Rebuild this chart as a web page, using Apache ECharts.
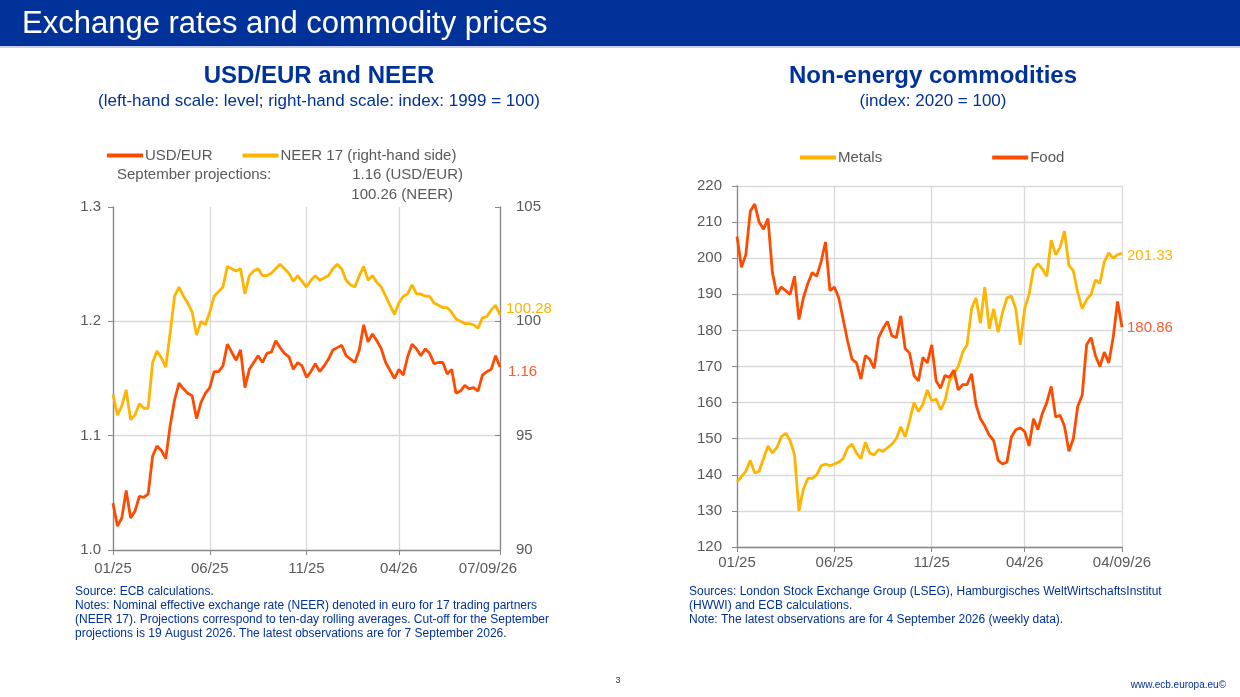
<!DOCTYPE html>
<html>
<head>
<meta charset="utf-8">
<script src="https://cdn.jsdelivr.net/npm/echarts@6/dist/echarts.min.js"></script>
<style>
  html, body { margin: 0; padding: 0; background: #fff; }
  #main { width: 1240px; height: 697px; }
</style>
</head>
<body>
<div id="main"></div>
<script>
// weekly observations (Fridays from 3 Jan 2025), last left point is 7 Sep 2026
var weekCount = 88;
var leftExtraDate = '2026-09-07';

var leftTickDates = ['2025-01-03', '2025-06-06', '2025-11-07', '2026-04-03', '2026-09-07'];
var leftTickLabels = ['01/25', '06/25', '11/25', '04/26', '07/09/26'];
var rightTickDates = ['2025-01-03', '2025-06-06', '2025-11-07', '2026-04-03', '2026-09-04'];
var rightTickLabels = ['01/25', '06/25', '11/25', '04/26', '04/09/26'];

var usdEur = [
  1.041, 1.021, 1.028, 1.052, 1.028, 1.034, 1.047, 1.046, 1.049, 1.082,
  1.091, 1.087, 1.080, 1.109, 1.131, 1.146, 1.141, 1.137, 1.135, 1.115,
  1.129, 1.137, 1.142, 1.156, 1.156, 1.161, 1.180, 1.173, 1.166, 1.175,
  1.142, 1.158, 1.164, 1.170, 1.164, 1.172, 1.173, 1.183, 1.177, 1.172,
  1.169, 1.158, 1.164, 1.161, 1.151, 1.156, 1.163, 1.156, 1.161, 1.167,
  1.175, 1.177, 1.179, 1.170, 1.167, 1.164, 1.175, 1.197, 1.182, 1.189,
  1.183, 1.176, 1.164, 1.157, 1.150, 1.158, 1.153, 1.169, 1.180, 1.176,
  1.170, 1.176, 1.172, 1.163, 1.164, 1.164, 1.154, 1.158, 1.137, 1.139,
  1.144, 1.141, 1.142, 1.139, 1.153, 1.156, 1.158, 1.170, 1.16
];
var neer17 = [
  96.8, 95.9, 96.3, 97.0, 95.7, 95.9, 96.4, 96.2, 96.2, 98.2,
  98.7, 98.4, 98.0, 99.5, 101.1, 101.5, 101.1, 100.8, 100.4, 99.4,
  100.0, 99.85, 100.4, 101.1, 101.3, 101.5, 102.4, 102.3, 102.2, 102.3,
  101.2, 102.0, 102.2, 102.3, 102.0, 102.0, 102.1, 102.3, 102.5, 102.3,
  102.1, 101.75, 102.0, 101.75, 101.5, 101.8, 102.0, 101.8, 101.9, 102.0,
  102.3, 102.5, 102.3, 101.8, 101.6, 101.5, 102.0, 102.4, 101.8, 102.0,
  101.7, 101.5, 101.1, 100.7, 100.3, 100.8, 101.1, 101.2, 101.6, 101.2,
  101.2, 101.1, 101.1, 100.8, 100.7, 100.6, 100.6, 100.4, 100.1, 100.0,
  99.9, 99.9, 99.85, 99.7, 100.15, 100.2, 100.5, 100.7, 100.28
];

var metals = [
  138, 139.5, 141, 144, 140.5, 141, 144.5, 148, 146, 147.5,
  150.5, 151.5, 149.5, 145.5, 130, 136, 139, 139, 140, 142.5,
  143, 142.5, 143, 143.5, 144.5, 147.5, 148.5, 146, 144.5, 149,
  146, 145.5, 147, 146.5, 147.5, 148.5, 150, 153.3, 150.5, 155,
  160, 157.5, 159.5, 163.5, 160.5, 161, 158, 160.5, 166, 168,
  170, 174, 176, 186, 189, 182, 192, 180.5, 186, 179.5,
  185, 189, 189.5, 186, 176, 186, 190, 197, 198.5, 197,
  195, 205, 201, 203, 207.5, 198, 196.5, 190.5, 186, 188.5,
  190, 194, 193, 199, 201.5, 200, 201, 201.33
];
var food = [
  206, 197.5, 201, 213, 215, 210, 208, 211, 196, 190,
  192, 191, 190, 195, 183, 189, 193, 196, 195, 199,
  204.5, 191, 192, 189, 183, 177, 172, 171, 166.5, 173,
  172, 169.5, 178, 180.5, 182.5, 178.5, 178, 184, 175, 173.7,
  167.5, 166, 172.5, 171, 176, 166, 164, 167.5, 167, 169,
  163.5, 165, 165, 168, 159.5, 155.5, 153.5, 151, 149.5, 144,
  143, 143.5, 150.5, 152.5, 153, 152, 148, 155.5, 152.5, 157,
  160, 164.5, 156, 156.5, 153.5, 146.5, 150, 159, 162, 176,
  178, 173, 170, 174, 171, 178, 188, 180.86
];

// build weekly date categories
var weekDates = [];
for (var i = 0; i < weekCount; i++) {
  var d = new Date(Date.UTC(2025, 0, 3) + i * 7 * 86400000);
  weekDates.push(d.toISOString().slice(0, 10));
}
var leftDates = weekDates.concat([leftExtraDate]);
var rightDates = weekDates.slice();

var ORANGE = '#FF4B00';
var YELLOW = '#FFB400';
var BLUE = '#003299';
var GREY = '#595959';
var FONT = '"Liberation Sans", Arial, sans-serif';

var myChart = echarts.init(document.getElementById('main'));

var tickFn = function(dates) {
  return function(idx, val) { return dates.indexOf(val) >= 0; };
};
var labelFn = function(dates, labels, shiftLast) {
  return function(val) {
    var k = dates.indexOf(val);
    if (k < 0) return '';
    if (shiftLast && k == dates.length - 1) return '{last|' + labels[k] + '}';
    return labels[k];
  };
};

var xAxisCommon = function(gridIndex, dates, tDates, tLabels, margin, shiftLast) {
  return {
    type: 'category',
    gridIndex: gridIndex,
    data: dates,
    boundaryGap: false,
    axisLine: { lineStyle: { color: '#888', width: 1.3 } },
    axisTick: { interval: tickFn(tDates), length: 5, lineStyle: { color: '#888' } },
    axisLabel: {
      interval: tickFn(tDates),
      formatter: labelFn(tDates, tLabels, shiftLast),
      color: GREY, fontSize: 15, fontFamily: FONT, margin: margin,
      showMaxLabel: true,
      rich: { last: { color: GREY, fontSize: 15, fontFamily: FONT, padding: [0, 24, 0, 0] } }
    },
    splitLine: { show: true, interval: tickFn(tDates), lineStyle: { color: '#d9d9d9', width: 1.3 } }
  };
};

var option = {
  animation: false,
  textStyle: { fontFamily: FONT },
  graphic: [
    { type: 'rect', shape: { x: 0, y: 0, width: 1240, height: 46 }, style: { fill: BLUE } },
    { type: 'rect', shape: { x: 0, y: 46, width: 1240, height: 2 }, style: { fill: '#c8d0e8' } },
    { type: 'text', x: 22, y: 24, style: { text: 'Exchange rates and commodity prices', fill: '#fff', font: '31px ' + FONT, textVerticalAlign: 'middle' } },

    { type: 'text', x: 319, y: 76, style: { text: 'USD/EUR and NEER', fill: BLUE, font: 'bold 24px ' + FONT, textAlign: 'center', textVerticalAlign: 'middle' } },
    { type: 'text', x: 319, y: 101, style: { text: '(left-hand scale: level; right-hand scale: index: 1999 = 100)', fill: BLUE, font: '17px ' + FONT, textAlign: 'center', textVerticalAlign: 'middle' } },
    { type: 'text', x: 933, y: 76, style: { text: 'Non-energy commodities', fill: BLUE, font: 'bold 24px ' + FONT, textAlign: 'center', textVerticalAlign: 'middle' } },
    { type: 'text', x: 933, y: 101, style: { text: '(index: 2020 = 100)', fill: BLUE, font: '17px ' + FONT, textAlign: 'center', textVerticalAlign: 'middle' } },

    { type: 'text', x: 117, y: 175, style: { text: 'September projections:', fill: GREY, font: '15px ' + FONT, textVerticalAlign: 'middle' } },
    { type: 'text', x: 463, y: 175, style: { text: '1.16 (USD/EUR)', fill: GREY, font: '15px ' + FONT, textAlign: 'right', textVerticalAlign: 'middle' } },
    { type: 'text', x: 453, y: 195, style: { text: '100.26 (NEER)', fill: GREY, font: '15px ' + FONT, textAlign: 'right', textVerticalAlign: 'middle' } },

    { type: 'text', x: 75, y: 585, style: {
      text: 'Source: ECB calculations.\nNotes: Nominal effective exchange rate (NEER) denoted in euro for 17 trading partners\n(NEER 17). Projections correspond to ten-day rolling averages. Cut-off for the September\nprojections is 19 August 2026. The latest observations are for 7 September 2026.',
      fill: BLUE, font: '12px ' + FONT, lineHeight: 14 } },
    { type: 'text', x: 689, y: 585, style: {
      text: 'Sources: London Stock Exchange Group (LSEG), Hamburgisches WeltWirtschaftsInstitut\n(HWWI) and ECB calculations.\nNote: The latest observations are for 4 September 2026 (weekly data).',
      fill: BLUE, font: '12px ' + FONT, lineHeight: 14 } },
    { type: 'text', x: 618, y: 681, style: { text: '3', fill: '#333', font: '9px ' + FONT, textAlign: 'center', textVerticalAlign: 'middle' } },
    { type: 'text', x: 1226, y: 685, style: { text: 'www.ecb.europa.eu©', fill: BLUE, font: '10px ' + FONT, textAlign: 'right', textVerticalAlign: 'middle' } }
  ],
  legend: [
    {
      left: 107, top: 148, padding: 0,
      itemWidth: 36, itemHeight: 4, itemGap: 30, icon: 'rect',
      textStyle: { color: GREY, fontSize: 15, fontFamily: FONT, padding: [0, 0, 0, -3] },
      data: ['USD/EUR', 'NEER 17 (right-hand side)']
    },
    {
      left: 800, top: 150, padding: 0,
      itemWidth: 36, itemHeight: 4, itemGap: 110, icon: 'rect',
      textStyle: { color: GREY, fontSize: 15, fontFamily: FONT, padding: [0, 0, 0, -3] },
      data: ['Metals', 'Food']
    }
  ],
  grid: [
    { left: 113, top: 207, width: 387, height: 343 },
    { left: 737, top: 186, width: 385, height: 361 }
  ],
  xAxis: [
    xAxisCommon(0, leftDates, leftTickDates, leftTickLabels, 11, true),
    xAxisCommon(1, rightDates, rightTickDates, rightTickLabels, 8, false)
  ],
  yAxis: [
    {
      type: 'value', gridIndex: 0, min: 1.0, max: 1.3, interval: 0.1,
      axisLine: { show: true, lineStyle: { color: '#888', width: 1.3 } },
      axisTick: { show: true, length: 5, lineStyle: { color: '#888' } },
      axisLabel: { color: GREY, fontSize: 15, fontFamily: FONT, margin: 12, formatter: function(v) { return v.toFixed(1); } },
      splitLine: { show: true, lineStyle: { color: ['transparent', '#d9d9d9', '#d9d9d9', 'transparent'], width: 1.3 } }
    },
    {
      type: 'value', gridIndex: 0, position: 'right', min: 90, max: 105, interval: 5,
      axisLine: { show: true, lineStyle: { color: '#888', width: 1.3 } },
      axisTick: { show: true, inside: true, length: 5, lineStyle: { color: '#888' } },
      axisLabel: { color: GREY, fontSize: 15, fontFamily: FONT, margin: 16 },
      splitLine: { show: false }
    },
    {
      type: 'value', gridIndex: 1, min: 120, max: 220, interval: 10,
      axisLine: { show: true, lineStyle: { color: '#888', width: 1.3 } },
      axisTick: { show: true, length: 5, lineStyle: { color: '#888' } },
      axisLabel: { color: GREY, fontSize: 15, fontFamily: FONT, margin: 15 },
      splitLine: { show: true, lineStyle: { color: '#d9d9d9', width: 1.3 } }
    }
  ],
  series: [
    {
      name: 'NEER 17 (right-hand side)', type: 'line', xAxisIndex: 0, yAxisIndex: 1,
      data: neer17, symbol: 'none', color: YELLOW, lineStyle: { width: 2.8, color: YELLOW },
      endLabel: { show: true, color: YELLOW, fontSize: 15, fontFamily: FONT, distance: 6, offset: [0, -6],
        formatter: function(p) { return p.value.toFixed(2); } }
    },
    {
      name: 'USD/EUR', type: 'line', xAxisIndex: 0, yAxisIndex: 0,
      data: usdEur, symbol: 'none', color: ORANGE, lineStyle: { width: 2.8, color: ORANGE },
      endLabel: { show: true, color: '#FF5A2E', fontSize: 15, fontFamily: FONT, distance: 8, offset: [0, 5],
        formatter: function(p) { return p.value.toFixed(2); } }
    },
    {
      name: 'Metals', type: 'line', xAxisIndex: 1, yAxisIndex: 2,
      data: metals, symbol: 'none', color: YELLOW, lineStyle: { width: 2.8, color: YELLOW },
      endLabel: { show: true, color: YELLOW, fontSize: 15, fontFamily: FONT, distance: 5, offset: [0, 2],
        formatter: function(p) { return p.value.toFixed(2); } }
    },
    {
      name: 'Food', type: 'line', xAxisIndex: 1, yAxisIndex: 2,
      data: food, symbol: 'none', color: ORANGE, lineStyle: { width: 2.8, color: ORANGE },
      endLabel: { show: true, color: '#FF5A2E', fontSize: 15, fontFamily: FONT, distance: 5, offset: [0, 1],
        formatter: function(p) { return p.value.toFixed(2); } }
    }
  ]
};

myChart.setOption(option);
</script>
</body>
</html>
